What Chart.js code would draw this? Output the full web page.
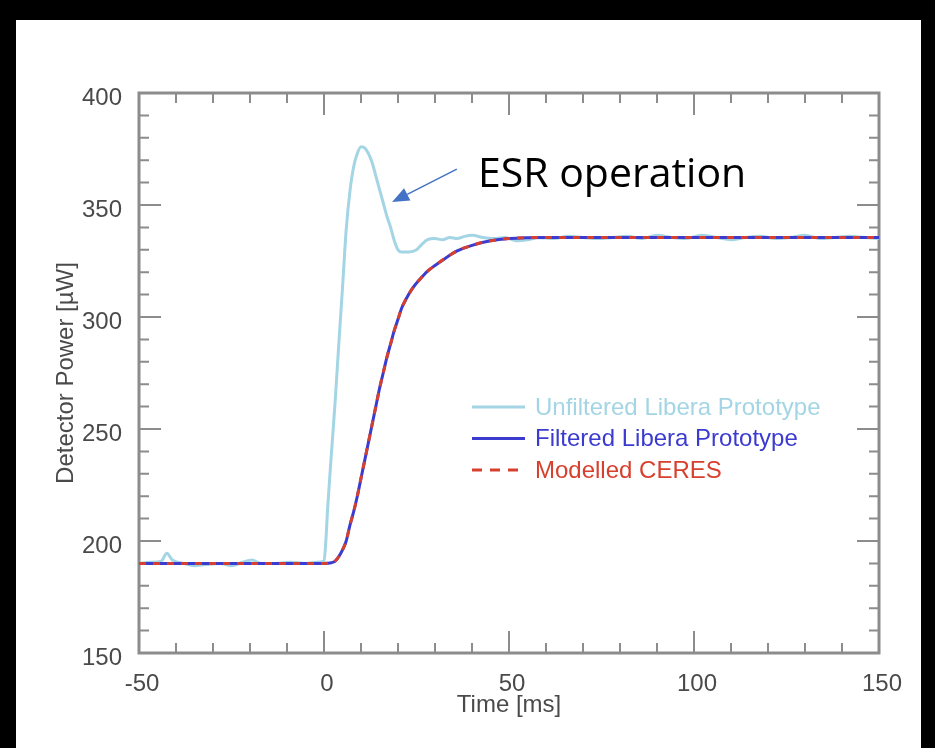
<!DOCTYPE html>
<html lang="en">
<head>
<meta charset="UTF-8">
<title>Detector Power</title>
<script src="https://cdn.jsdelivr.net/npm/chart.js"></script>
<style>
  html, body { margin: 0; padding: 0; background: #000; }
  .frame { position: absolute; left: 16px; top: 20px; width: 905px; height: 728px; background: #fff; }
  canvas { display: block; }
</style>
</head>
<body>
<div class="frame"><canvas id="powerChart"></canvas></div>
<script>
// values
const seriesLabels = ['Unfiltered Libera Prototype', 'Filtered Libera Prototype', 'Modelled CERES'];

const unfilteredTime = [-50, -47, -44, -42.5, -41, -38, -35, -32, -28, -25, -22, -19.5, -17, -13, -9, -5, -2, 0, 0.5, 1,
  2, 3, 4, 5, 6, 7, 8, 9, 10, 11, 12, 13, 14, 15, 16, 17, 18, 19, 20, 21, 23, 25, 26.5, 28, 30, 32, 34, 36, 38, 40,
  43, 46, 49, 52, 55, 58, 62, 66, 70, 74, 78, 82, 86, 90, 94, 98, 102, 106, 110, 114, 118, 122, 126, 130, 134, 138, 142, 146, 150];
const unfilteredPower = [190, 190.5, 191, 194.5, 191.5, 190, 189, 189.5, 190, 189, 190.5, 191.5, 190, 190, 190.5, 190, 190.5, 191, 200, 215,
  239, 262, 288, 313, 339, 356, 367, 373, 376, 375.5, 373, 369, 363, 357, 351, 345, 340, 334, 330, 329, 329, 330, 332.5, 334.5, 335, 334.5, 335.5, 335, 336, 336.5,
  335.5, 335, 335.5, 334, 334.5, 335.5, 335, 336, 335.5, 335, 335.5, 336, 335, 336.5, 335.5, 335, 336.5, 335.5, 334.5, 335.5, 336, 335, 335.5, 336.5, 335, 335.5, 336, 335.5, 335];

const filteredTime = [-50, -40, -30, -20, -10, 0, 2, 3, 4, 5, 6, 7, 8, 9, 10, 11, 12, 13, 14, 15, 16, 17, 18, 19, 20,
  21, 22, 24, 26, 28, 30, 33, 36, 40, 45, 50, 60, 75, 100, 125, 150];
const filteredPower = [190, 190, 190, 190, 190, 190, 190.3, 191, 193, 196, 200, 207, 213, 220, 228, 236, 244, 252, 260, 268, 275, 282, 288, 294, 299,
  304, 307.5, 313, 317, 320.5, 323, 326.5, 329.5, 332, 334, 335, 335.5, 335.5, 335.5, 335.5, 335.5];

const ceresTime = [-50, -40, -30, -20, -10, 0, 2, 3, 4, 5, 6, 7, 8, 9, 10, 11, 12, 13, 14, 15, 16, 17, 18, 19, 20,
  21, 22, 24, 26, 28, 30, 33, 36, 40, 45, 50, 60, 75, 100, 125, 150];
const ceresPower = [190, 190, 190, 190, 190, 190, 190.3, 191, 193, 196, 200, 207, 213, 220, 228, 236, 244, 252, 260, 268, 275, 282, 288, 294, 299,
  304, 307.5, 313, 317, 320.5, 323, 326.5, 329.5, 332, 334, 335, 335.5, 335.5, 335.5, 335.5, 335.5];

const timeTicks = [-50, 0, 50, 100, 150];
const powerTicks = [150, 200, 250, 300, 350, 400];

const toPoints = (xs, ys) => xs.map((t, i) => ({ x: t, y: ys[i] }));
const FONT = '"Liberation Sans", Arial, sans-serif';
const AXIS = '#8c8c8c';
const TEXT = '#4a4a4a';

// frame round the plot with inward ticks on all four sides
const boxTicks = {
  id: 'boxTicks',
  beforeDatasetsDraw(chart) {
    const { ctx, chartArea: a, scales: { x, y } } = chart;
    ctx.save();
    ctx.strokeStyle = AXIS;
    ctx.lineWidth = 2;
    ctx.beginPath();
    for (let v = x.min + 10; v < x.max; v += 10) {
      const px = x.getPixelForValue(v);
      const len = v % 50 === 0 ? 22 : 10;
      ctx.moveTo(px, a.bottom); ctx.lineTo(px, a.bottom - len);
      ctx.moveTo(px, a.top); ctx.lineTo(px, a.top + len);
    }
    for (let v = y.min + 10; v < y.max; v += 10) {
      const py = y.getPixelForValue(v);
      const len = v % 50 === 0 ? 22 : 10;
      ctx.moveTo(a.left, py); ctx.lineTo(a.left + len, py);
      ctx.moveTo(a.right, py); ctx.lineTo(a.right - len, py);
    }
    ctx.stroke();
    ctx.lineWidth = 3;
    ctx.strokeRect(a.left, a.top, a.right - a.left, a.bottom - a.top);
    ctx.restore();
  }
};

// legend sits inside the plot, right of centre
const innerLegend = {
  id: 'innerLegend',
  afterDraw(chart) {
    const { ctx, chartArea: a } = chart;
    const x0 = a.left + 333, y0 = a.top + 314, row = 31.5;
    ctx.save();
    ctx.font = '24px ' + FONT;
    ctx.textBaseline = 'middle';
    chart.data.datasets.forEach((ds, i) => {
      const yy = y0 + i * row;
      ctx.strokeStyle = ds.borderColor;
      ctx.lineWidth = 3;
      ctx.setLineDash(ds.borderDash ? [10, 8] : []);
      ctx.beginPath(); ctx.moveTo(x0, yy); ctx.lineTo(x0 + 53, yy); ctx.stroke();
      ctx.fillStyle = ds.borderColor;
      ctx.fillText(ds.label, x0 + 63, yy + 1);
    });
    ctx.restore();
  }
};

// "ESR operation" callout with arrow
const esrNote = {
  id: 'esrNote',
  afterDraw(chart) {
    const { ctx, scales: { x, y } } = chart;
    ctx.save();
    ctx.fillStyle = '#000';
    ctx.font = '41px "Open Sans", sans-serif';
    ctx.textBaseline = 'alphabetic';
    ctx.fillText('ESR operation', x.getPixelForValue(41.6), y.getPixelForValue(358));

    const x1 = x.getPixelForValue(35.9), y1 = y.getPixelForValue(366);
    const x2 = x.getPixelForValue(18.4), y2 = y.getPixelForValue(351.3);
    const ang = Math.atan2(y2 - y1, x2 - x1);
    const head = 17, half = 7;
    const bx = x2 - head * Math.cos(ang), by = y2 - head * Math.sin(ang);
    ctx.strokeStyle = '#4472c4';
    ctx.fillStyle = '#4472c4';
    ctx.lineWidth = 1.5;
    ctx.beginPath(); ctx.moveTo(x1, y1); ctx.lineTo(bx, by); ctx.stroke();
    ctx.beginPath();
    ctx.moveTo(x2, y2);
    ctx.lineTo(bx + half * Math.sin(ang), by - half * Math.cos(ang));
    ctx.lineTo(bx - half * Math.sin(ang), by + half * Math.cos(ang));
    ctx.closePath();
    ctx.fill();
    ctx.restore();
  }
};

new Chart(document.getElementById('powerChart'), {
  type: 'line',
  data: {
    datasets: [
      {
        label: seriesLabels[0],
        data: toPoints(unfilteredTime, unfilteredPower),
        borderColor: '#a3d5e4',
        borderWidth: 3,
        cubicInterpolationMode: 'monotone',
        order: 3
      },
      {
        label: seriesLabels[1],
        data: toPoints(filteredTime, filteredPower),
        borderColor: '#3b3bd0',
        borderWidth: 3,
        cubicInterpolationMode: 'monotone',
        order: 2
      },
      {
        label: seriesLabels[2],
        data: toPoints(ceresTime, ceresPower),
        borderColor: '#d8402e',
        borderWidth: 3,
        borderDash: [7, 7],
        cubicInterpolationMode: 'monotone',
        order: 1
      }
    ]
  },
  options: {
    responsive: true,
    maintainAspectRatio: false,
    animation: false,
    elements: { point: { radius: 0 } },
    layout: { padding: { left: 0, right: 42, top: 73, bottom: 0 } },
    plugins: {
      legend: { display: false },
      tooltip: { enabled: false }
    },
    scales: {
      x: {
        type: 'linear',
        min: -50,
        max: 150,
        afterBuildTicks: (s) => { s.ticks = timeTicks.map(v => ({ value: v })); },
        afterFit: (s) => { s.height = 95; },
        grid: { display: false },
        border: { display: false },
        ticks: { color: TEXT, font: { family: FONT, size: 24 }, padding: 9, labelOffset: 3, maxRotation: 0 },
        title: { display: true, text: 'Time [ms]', color: TEXT, font: { family: FONT, size: 24 }, padding: { top: 4, bottom: 28 } }
      },
      y: {
        min: 150,
        max: 400,
        afterBuildTicks: (s) => { s.ticks = powerTicks.map(v => ({ value: v })); },
        afterFit: (s) => { s.width = 123; },
        grid: { display: false },
        border: { display: false },
        ticks: { color: TEXT, font: { family: FONT, size: 24 }, padding: 9, labelOffset: 5 },
        title: { display: true, text: 'Detector Power [µW]', color: TEXT, font: { family: FONT, size: 24 }, padding: { top: 36, bottom: 4 } }
      }
    }
  },
  plugins: [boxTicks, innerLegend, esrNote]
});
</script>
</body>
</html>
